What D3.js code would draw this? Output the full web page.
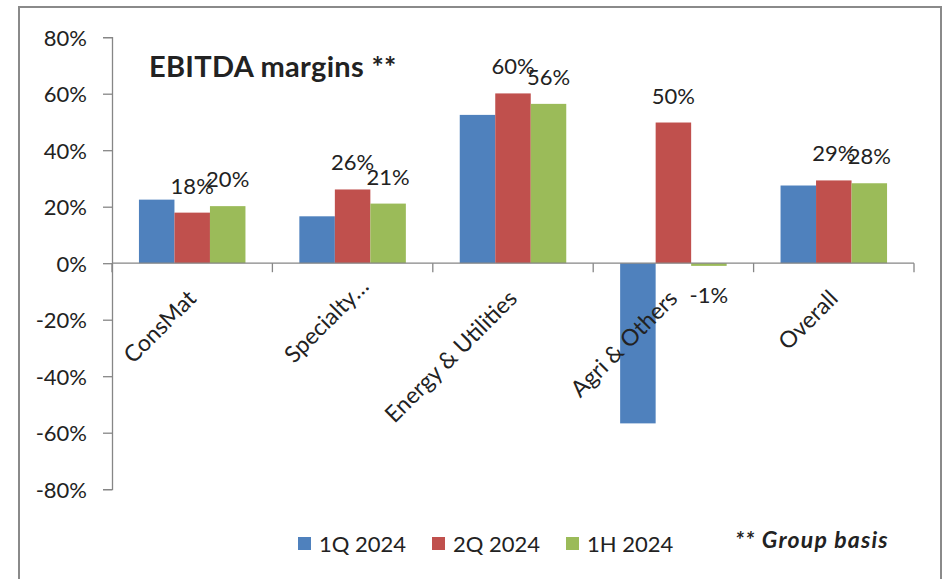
<!DOCTYPE html>
<html>
<head>
<meta charset="utf-8">
<script src="https://cdn.jsdelivr.net/npm/d3@7"></script>
<style>
  html, body { margin: 0; padding: 0; background: #fff; }
  svg { display: block; }
  text { font-family: Lato, "Open Sans", sans-serif; fill: #222; }
</style>
</head>
<body>
<svg id="chart" width="943" height="579"></svg>
<script>
// ---- data ----
const categories = ["ConsMat", "Specialty…", "Energy & Utilities", "Agri & Others", "Overall"];
const seriesNames = ["1Q 2024", "2Q 2024", "1H 2024"];
const q1_2024 = [0.225, 0.166, 0.525, -0.567, 0.275];
const q2_2024 = [0.179, 0.261, 0.601, 0.498, 0.293];
const h1_2024 = [0.202, 0.211, 0.564, -0.0095, 0.283];
const labelQ2 = ["18%", "26%", "60%", "50%", "29%"];
const labelH1 = ["20%", "21%", "56%", "-1%", "28%"];
const yTicks = [-0.8, -0.6, -0.4, -0.2, 0, 0.2, 0.4, 0.6, 0.8];
const titleText = "EBITDA margins **";
const noteText = "** Group basis";

(function () {
const colors = ["#4F81BD", "#C0504D", "#9BBB59"];
const seriesValues = [q1_2024, q2_2024, h1_2024];
const seriesLabels = [null, labelQ2, labelH1];

const svg = d3.select("#chart");

// frame
svg.append("rect")
  .attr("x", 19).attr("y", 7).attr("width", 922).attr("height", 600)
  .attr("fill", "none").attr("stroke", "#8a8a8a").attr("stroke-width", 2);

const pLeft = 112, pRight = 914, pTop = 37.2, pBottom = 489.2;
const y = d3.scaleLinear().domain([-0.8, 0.8]).range([pBottom, pTop]);
const x0 = d3.scaleBand().domain(categories).range([pLeft, pRight]).padding(0);
const x1 = d3.scaleBand().domain(seriesNames).range([0, x0.bandwidth()])
  .paddingInner(0).paddingOuter(0.759);

const loc = d3.formatLocale({decimal: ".", thousands: ",", grouping: [3], currency: ["$", ""], minus: "-"});
const pct = loc.format(".0%");

// y axis
const yAxis = svg.append("g").attr("transform", `translate(${pLeft},0)`)
  .call(d3.axisLeft(y).tickValues(yTicks).tickFormat(pct).tickSize(9).tickPadding(16));
yAxis.select(".domain").attr("stroke", "#868686").attr("stroke-width", 1.3);
yAxis.selectAll(".tick line").attr("stroke", "#868686").attr("stroke-width", 1.3);
yAxis.selectAll(".tick text").style("font-family", "Lato, sans-serif")
  .style("font-size", "22px").attr("fill", "#222").attr("dy", "0.36em");

// bars
const groups = svg.append("g").selectAll("g")
  .data(categories).join("g")
  .attr("transform", d => `translate(${x0(d)},0)`);

seriesNames.forEach((s, si) => {
  groups.append("rect")
    .attr("x", x1(s))
    .attr("width", x1.bandwidth())
    .attr("y", (d, i) => y(Math.max(0, seriesValues[si][i])))
    .attr("height", (d, i) => Math.abs(y(seriesValues[si][i]) - y(0)))
    .attr("fill", colors[si]);
});

// x axis (on top of bars)
const xAxisG = svg.append("g").attr("transform", `translate(0,${y(0)})`);
xAxisG.append("line").attr("x1", pLeft).attr("x2", pRight).attr("y1", 0).attr("y2", 0)
  .attr("stroke", "#868686").attr("stroke-width", 1.3);
const boundaries = categories.map(c => x0(c)).concat([pRight]);
xAxisG.selectAll("line.tk").data(boundaries).join("line").attr("class", "tk")
  .attr("x1", d => d).attr("x2", d => d).attr("y1", 0).attr("y2", 9)
  .attr("stroke", "#868686").attr("stroke-width", 1.3);

// category labels, rotated -45
categories.forEach(c => {
  const cx = x0(c) + x0.bandwidth() / 2 + 5.5;
  const cy = 300;
  const hasEll = c.endsWith("…");
  const main = hasEll ? c.slice(0, -1) : c;
  const g = svg.append("g").attr("transform", `translate(${cx},${cy}) rotate(-45)`);
  g.append("text").attr("text-anchor", "end").style("font-size", "23px").text(main);
  if (hasEll) g.append("text").attr("text-anchor", "start").style("font-size", "23px").text("…");
});

// data labels
seriesNames.forEach((s, si) => {
  if (!seriesLabels[si]) return;
  groups.append("text")
    .attr("text-anchor", "middle")
    .style("font-size", "22px")
    .attr("x", x1(s) + x1.bandwidth() / 2)
    .attr("y", (d, i) => {
      const v = seriesValues[si][i];
      return v >= 0 ? y(v) - 19 : y(v) + 37;
    })
    .text((d, i) => seriesLabels[si][i]);
});

// title
svg.append("text").attr("x", 149).attr("y", 77)
  .style("font-size", "29px").style("font-weight", "bold").style("letter-spacing", "0.3px")
  .attr("fill", "#000")
  .text(titleText);

// legend
const legendX = [298, 432, 566];
seriesNames.forEach((s, si) => {
  svg.append("rect").attr("x", legendX[si]).attr("y", 537).attr("width", 13).attr("height", 13)
    .attr("fill", colors[si]);
  svg.append("text").attr("x", legendX[si] + 21).attr("y", 552)
    .style("font-size", "22px").text(s);
});

// note
svg.append("text").attr("x", 735).attr("y", 548)
  .style("font-size", "23px").style("font-weight", "bold").style("font-style", "italic")
  .style("letter-spacing", "1.2px")
  .attr("fill", "#000").text(noteText);
})();
</script>
</body>
</html>
